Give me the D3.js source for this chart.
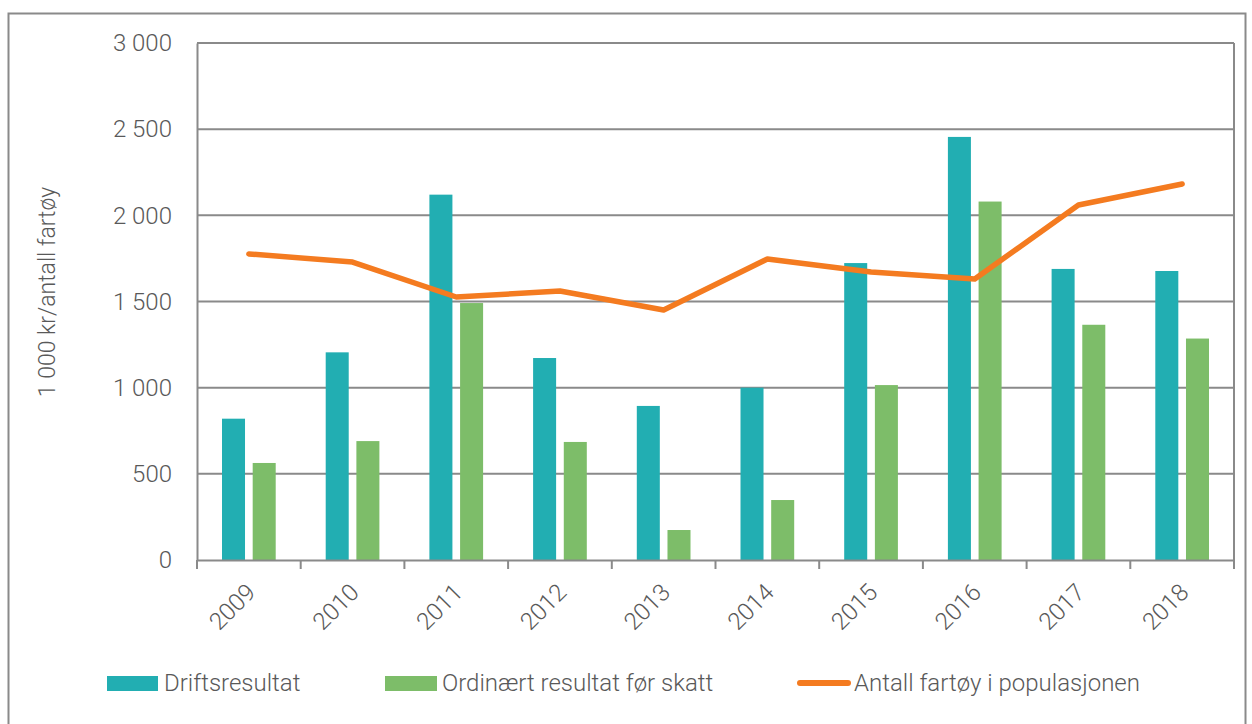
<!DOCTYPE html>
<html>
<head>
<meta charset="utf-8">
<script src="https://cdn.jsdelivr.net/npm/d3@7"></script>
<style>
  body { margin: 0; background: #fff; }
  text { font-family: "Roboto", "Lato", sans-serif; font-weight: 300; fill: #595959; }
</style>
</head>
<body>
<script>
var years = ["2009", "2010", "2011", "2012", "2013", "2014", "2015", "2016", "2017", "2018"];
var drift = [820, 1205, 2120, 1172, 894, 1000, 1723, 2455, 1689, 1677];
var ordinaert = [563, 690, 1491, 685, 174, 348, 1015, 2080, 1365, 1285];
var antall = [1776, 1729, 1526, 1561, 1451, 1747, 1671, 1631, 2060, 2182];
var yTicks = [0, 500, 1000, 1500, 2000, 2500, 3000];
var seriesNames = ["Driftsresultat", "Ordinært resultat før skatt", "Antall fartøy i populasjonen"];

var W = 1252, H = 724;
var margin = {top: 43, right: 18, bottom: 164, left: 197},
	width = W - margin.left - margin.right,
	height = H - margin.top - margin.bottom;

var svg = d3.select('body').append('svg')
	.attr('width', W)
	.attr('height', H);

// outer frame
svg.append('rect')
	.attr('x', 8.5).attr('y', 13.5)
	.attr('width', 1237).attr('height', 720)
	.attr('fill', 'none')
	.attr('stroke', '#8a8a8a')
	.attr('stroke-width', 2);

var main = svg.append('g')
	.attr('transform', 'translate(' + margin.left + ',' + margin.top + ')');

var x = d3.scaleBand()
	.domain(years)
	.range([0, width]);

var x1 = d3.scaleBand()
	.domain(["drift", "ord"])
	.range([25, x.bandwidth() - 25])
	.paddingInner(0.25);

var y = d3.scaleLinear()
	.domain([0, 3000])
	.range([height, 0]);

// gridlines
main.append('g').selectAll('line')
	.data(yTicks.slice(1))
	.enter().append('line')
		.attr('x1', 0).attr('x2', width)
		.attr('y1', function(d) { return y(d); })
		.attr('y2', function(d) { return y(d); })
		.attr('stroke', '#8a8a8a')
		.attr('stroke-width', 2);

// right border of plot
main.append('line')
	.attr('x1', width).attr('x2', width)
	.attr('y1', 0).attr('y2', height)
	.attr('stroke', '#8a8a8a').attr('stroke-width', 2);

// bars
var groups = main.append('g').selectAll('g')
	.data(years)
	.enter().append('g')
		.attr('transform', function(d) { return 'translate(' + x(d) + ',0)'; });

groups.append('rect')
	.attr('x', x1('drift'))
	.attr('width', x1.bandwidth())
	.attr('y', function(d, i) { return y(drift[i]); })
	.attr('height', function(d, i) { return height - y(drift[i]); })
	.attr('fill', '#22aeb2');

groups.append('rect')
	.attr('x', x1('ord'))
	.attr('width', x1.bandwidth())
	.attr('y', function(d, i) { return y(ordinaert[i]); })
	.attr('height', function(d, i) { return height - y(ordinaert[i]); })
	.attr('fill', '#7dbd69');

// line
var line = d3.line()
	.x(function(d, i) { return x(years[i]) + x.bandwidth() / 2; })
	.y(function(d) { return y(d); });

main.append('path')
	.datum(antall)
	.attr('d', line)
	.attr('fill', 'none')
	.attr('stroke', '#f47b20')
	.attr('stroke-width', 5.5)
	.attr('stroke-linecap', 'round')
	.attr('stroke-linejoin', 'round');

// y axis
var yAxis = d3.axisLeft(y)
	.tickValues(yTicks)
	.tickSize(0)
	.tickPadding(25)
	.tickFormat(function(d) { return d3.format(',')(d).replace(',', ' '); });

var gy = main.append('g').call(yAxis);
gy.select('.domain').attr('stroke', '#8a8a8a').attr('stroke-width', 2);
gy.selectAll('text')
	.style('font-size', '24px');

// x axis
var xAxis = d3.axisBottom(x)
	.tickSize(0)
	.tickFormat('');

var gx = main.append('g')
	.attr('transform', 'translate(0,' + height + ')')
	.call(xAxis);
gx.select('.domain').attr('stroke', '#8a8a8a').attr('stroke-width', 2);

// ticks at band boundaries
gx.append('g').selectAll('line')
	.data(years.concat(['end']))
	.enter().append('line')
		.attr('x1', function(d, i) { return i * x.step(); })
		.attr('x2', function(d, i) { return i * x.step(); })
		.attr('y1', 0).attr('y2', 9)
		.attr('stroke', '#8a8a8a').attr('stroke-width', 2);

gx.append('g').selectAll('text')
	.data(years)
	.enter().append('text')
		.attr('transform', function(d) {
			return 'translate(' + (x(d) + x.bandwidth() / 2 + 2) + ',28) rotate(-45)';
		})
		.attr('text-anchor', 'end')
		.attr('dy', '0.35em')
		.style('font-size', '24px')
		.text(function(d) { return d; });

// y label
svg.append('text')
	.attr('transform', 'translate(47,292) rotate(-90)')
	.attr('text-anchor', 'middle')
	.attr('dy', '0.35em')
	.style('font-size', '23px')
	.text('1 000 kr/antall fartøy');

// legend
var legend = svg.append('g').attr('transform', 'translate(0,683)');
var legX = [107, 385, 797];

legend.append('rect')
	.attr('x', legX[0]).attr('y', -7).attr('width', 51).attr('height', 15)
	.attr('fill', '#22aeb2');
legend.append('rect')
	.attr('x', legX[1]).attr('y', -7).attr('width', 52).attr('height', 15)
	.attr('fill', '#7dbd69');
legend.append('line')
	.attr('x1', legX[2] + 3).attr('x2', legX[2] + 51)
	.attr('y1', 0).attr('y2', 0)
	.attr('stroke', '#f47b20').attr('stroke-width', 6)
	.attr('stroke-linecap', 'round');

legend.selectAll('text.leg')
	.data(seriesNames)
	.enter().append('text')
		.attr('class', 'leg')
		.attr('x', function(d, i) { return legX[i] + 57; })
		.attr('dy', '0.35em')
		.style('font-size', '24px')
		.text(function(d) { return d; });
</script>
</body>
</html>
